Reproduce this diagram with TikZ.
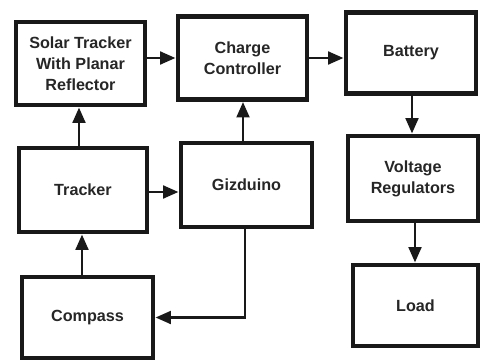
\documentclass[tikz,border=0pt]{standalone}
\usepackage{fontspec}
\setmainfont{Liberation Sans}
\usetikzlibrary{arrows.meta,calc}
\begin{document}
\begin{tikzpicture}[x=0.5mm,y=-0.5mm,
  blk/.style={draw=black!90, line width=7pt, fill=white, inner sep=0pt,
    align=center, font=\fontsize{23}{30}\selectfont\bfseries, text=black!85},
  conn/.style={line width=4.2pt, draw=black!90, -{Triangle[length=22pt,width=18pt]}}]
\useasboundingbox (0,0) rectangle (480,360);
\node[blk, minimum width=129*0.5mm, minimum height=83*0.5mm] (solar) at (80.5,63.5) {Solar Tracker\\With Planar\\Reflector};
\node[blk, minimum width=129*0.5mm, minimum height=83*0.5mm] (charge) at (242.5,58) {Charge\\Controller};
\node[blk, minimum width=130*0.5mm, minimum height=81*0.5mm] (battery) at (411,53) {Battery};
\node[blk, minimum width=130*0.5mm, minimum height=85*0.5mm] (volt) at (413,178.5) {Voltage\\Regulators};
\node[blk, minimum width=125*0.5mm, minimum height=81*0.5mm] (load) at (415.5,305.5) {Load};
\node[blk, minimum width=128*0.5mm, minimum height=84*0.5mm] (tracker) at (83,190) {Tracker};
\node[blk, minimum width=131*0.5mm, minimum height=84*0.5mm] (giz) at (246.5,185) {Gizduino};
\node[blk, minimum width=131*0.5mm, minimum height=81*0.5mm] (compass) at (87.5,317.5) {Compass};
\draw[conn] (solar.east |- charge) -- (charge.west);
\draw[conn] (charge.east |- 0,58) -- (battery.west |- 0,58);
\draw[conn] (battery.south -| 412,0) -- (volt.north -| 412,0);
\draw[conn] (volt.south -| 415,0) -- (load.north -| 415,0);
\draw[conn] (tracker.north -| 79,0) -- (solar.south -| 79,0);
\draw[conn] (tracker.east |- 0,192) -- (giz.west |- 0,192);
\draw[conn] (giz.north -| 243,0) -- (charge.south -| 243,0);
\draw[conn] (compass.north -| 82,0) -- (tracker.south -| 82,0);
\draw[conn] (giz.south -| 245,0) |- (compass.east);
\end{tikzpicture}
\end{document}
